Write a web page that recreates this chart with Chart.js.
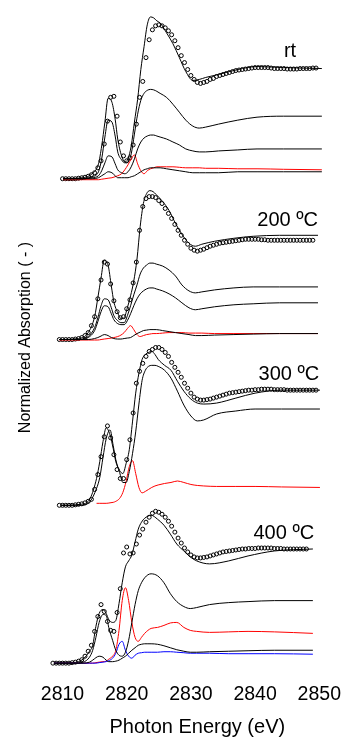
<!DOCTYPE html>
<html>
<head>
<meta charset="utf-8">
<script src="https://cdn.jsdelivr.net/npm/chart.js@4.4.1/dist/chart.umd.min.js"></script>
<style>
  html, body { margin: 0; padding: 0; background: #fff; }
  canvas { display: block; }
</style>
</head>
<body>
<canvas id="graph" width="344" height="737"></canvas>
<script>
// S K-edge XANES, four temperatures, stacked. Energies in eV, absorption normalised.
const tickValues = [2810, 2820, 2830, 2840, 2850];

// energies of the solid curves (each panel is a bit shifted in the figure)
const energyRt = [2810.1, 2813.1, 2814.6, 2815.6, 2816.1, 2816.6, 2817.1, 2817.7, 2818.2, 2818.6,
  2819.2, 2819.7, 2820.2, 2820.7, 2821.2, 2821.7, 2822.2, 2822.7, 2823.2, 2823.7,
  2824.2, 2824.7, 2825.2, 2826.2, 2827.2, 2828.2, 2829.2, 2830.3, 2831.3, 2832.3,
  2834.3, 2837.3, 2840.3, 2844.4, 2850.4];
const energy200 = [2809.5, 2812.5, 2814.0, 2815.0, 2815.5, 2816.0, 2816.5, 2817.1, 2817.6, 2818.0,
  2818.6, 2819.1, 2819.6, 2820.1, 2820.6, 2821.1, 2821.6, 2822.1, 2822.6, 2823.1,
  2823.6, 2824.1, 2824.6, 2825.6, 2826.6, 2827.6, 2828.6, 2829.7, 2830.7, 2831.7,
  2833.7, 2836.7, 2839.7, 2843.8, 2849.8];
const energy300 = [2809.8, 2812.8, 2814.3, 2815.3, 2815.8, 2816.3, 2816.8, 2817.4, 2817.9, 2818.3,
  2818.9, 2819.4, 2819.9, 2820.4, 2820.9, 2821.4, 2821.9, 2822.4, 2822.9, 2823.4,
  2823.9, 2824.4, 2824.9, 2825.9, 2826.9, 2827.9, 2828.9, 2830.0, 2831.0, 2832.0,
  2834.0, 2837.0, 2840.0, 2844.1, 2850.1];
const energy400 = [2808.7, 2811.7, 2813.2, 2814.2, 2814.7, 2815.2, 2815.7, 2816.3, 2816.8, 2817.2,
  2817.8, 2818.3, 2818.8, 2819.3, 2819.8, 2820.3, 2820.8, 2821.3, 2821.8, 2822.3,
  2822.8, 2823.3, 2823.8, 2824.8, 2825.8, 2826.8, 2827.8, 2828.9, 2829.9, 2830.9,
  2832.9, 2835.9, 2838.9, 2843.0, 2849.0];

// energies of the open circles
const circleEnergy = [2808.5, 2809, 2809.5, 2810, 2810.5, 2811, 2811.5, 2812, 2812.5, 2813,
  2813.5, 2814, 2814.5, 2815, 2815.5, 2816, 2816.5, 2817, 2817.5, 2818,
  2818.5, 2819, 2819.5, 2820, 2820.5, 2821, 2821.5, 2822, 2822.5, 2823,
  2823.5, 2824, 2824.5, 2825, 2825.5, 2826, 2826.5, 2827, 2827.5, 2828,
  2828.5, 2829, 2829.5, 2830, 2830.5, 2831, 2831.5, 2832, 2832.5, 2833,
  2833.5, 2834, 2834.5, 2835, 2835.5, 2836, 2836.5, 2837, 2837.5, 2838,
  2838.5, 2839, 2839.5, 2840, 2840.5, 2841, 2841.5, 2842, 2842.5, 2843,
  2843.5, 2844, 2844.5, 2845, 2845.5, 2846, 2846.5, 2847, 2847.5, 2848,
  2848.5, 2849, 2849.5, 2850, 2850.5];

// vertical offsets of the stacked panels
const offsetRt = 4.88;
const offset200 = 3.26;
const offset300 = 1.59;
const offset400 = 0;

// ---- rt
const rtCircles = [null, null, null, 0, 0, 0, 0, 0, 0.005, 0.01,
  0.015, 0.025, 0.04, 0.06, 0.11, 0.18, 0.35, 0.58, 0.82, 0.83,
  0.63, 0.37, 0.23, 0.18, 0.21, 0.34, 0.55, 0.82, 0.98, 1.22,
  1.40, 1.50, 1.54, 1.55, 1.54, 1.52, 1.49, 1.45, 1.39, 1.32,
  1.24, 1.17, 1.10, 1.04, 1.00, 0.97, 0.96, 0.97, 0.98, 1.00,
  1.01, 1.03, 1.04, 1.05, 1.06, 1.07, 1.08, 1.09, 1.095, 1.10,
  1.105, 1.11, 1.115, 1.12, 1.12, 1.12, 1.12, 1.12, 1.115, 1.11,
  1.11, 1.11, 1.11, 1.105, 1.105, 1.105, 1.105, 1.11, 1.11, 1.11,
  1.11, 1.115, 1.115, null, null];
const rtMeasured = [0, 0.01, 0.05, 0.15, 0.33, 0.57, 0.81, 0.77, 0.60, 0.40,
  0.23, 0.17, 0.20, 0.33, 0.57, 0.80, 1.10, 1.33, 1.55, 1.63,
  1.62, 1.59, 1.57, 1.47, 1.36, 1.22, 1.08, 0.99, 1.00, 1.02,
  1.05, 1.10, 1.13, 1.12, 1.11];
const rtCompA = [0, 0, 0.02, 0.07, 0.20, 0.42, 0.59, 0.57, 0.43, 0.27,
  0.19, 0.16, 0.17, 0.25, 0.45, 0.65, 0.79, 0.86, 0.89, 0.90,
  0.895, 0.88, 0.86, 0.82, 0.75, 0.67, 0.59, 0.53, 0.51, 0.52,
  0.55, 0.59, 0.62, 0.63, 0.63];
const rtCompB = [0, 0, 0.01, 0.03, 0.08, 0.16, 0.23, 0.22, 0.15, 0.09,
  0.06, 0.05, 0.07, 0.12, 0.20, 0.30, 0.37, 0.41, 0.43, 0.44,
  0.44, 0.43, 0.42, 0.40, 0.37, 0.34, 0.30, 0.28, 0.27, 0.27,
  0.28, 0.29, 0.30, 0.30, 0.30];
const rtCompC = [0, 0, 0, 0.01, 0.03, 0.05, 0.07, 0.06, 0.03, 0.01,
  0.01, 0.01, 0.01, 0.02, 0.03, 0.05, 0.07, 0.09, 0.10, 0.11,
  0.11, 0.11, 0.11, 0.10, 0.09, 0.08, 0.07, 0.06, 0.06, 0.06,
  0.06, 0.07, 0.07, 0.07, 0.07];
const rtRed = [-0.01, -0.01, -0.01, -0.01, -0.005, 0, 0.005, 0.01, 0.02, 0.03,
  0.05, 0.09, 0.14, 0.20, 0.24, 0.15, 0.08, 0.05, 0.08, 0.10,
  0.11, 0.12, 0.12, 0.12, 0.12, 0.115, 0.11, 0.11, 0.11, 0.105,
  0.105, 0.10, 0.10, 0.095, 0.09];

// ---- 200 C
const c200Circles = [null, null, 0, 0, 0, 0, 0, 0.005, 0.01, 0.02,
  0.04, 0.07, 0.14, 0.23, 0.41, 0.60, 0.78, 0.76, 0.56, 0.39,
  0.28, 0.22, 0.23, 0.31, 0.40, 0.57, 0.78, 1.10, 1.34, 1.42,
  1.44, 1.44, 1.43, 1.40, 1.37, 1.32, 1.27, 1.22, 1.16, 1.10,
  1.05, 1.00, 0.96, 0.92, 0.90, 0.89, 0.90, 0.91, 0.925, 0.94,
  0.95, 0.96, 0.97, 0.975, 0.98, 0.985, 0.99, 0.995, 1.00, 1.005,
  1.01, 1.01, 1.01, 1.01, 1.01, 1.005, 1.005, 1.00, 1.00, 1.00,
  1.00, 1.00, 1.00, 1.00, 1.00, 1.00, 1.00, 1.00, 1.00, 1.00,
  1.00, 1.00, null, null, null];
const c200Measured = [0, 0.01, 0.07, 0.23, 0.42, 0.62, 0.80, 0.75, 0.54, 0.38,
  0.27, 0.21, 0.22, 0.32, 0.44, 0.59, 0.81, 1.14, 1.37, 1.47,
  1.50, 1.49, 1.46, 1.39, 1.30, 1.17, 1.06, 0.97, 0.94, 0.96,
  0.99, 1.02, 1.04, 1.05, 1.05];
const c200CompA = [0, 0, 0.03, 0.12, 0.22, 0.34, 0.41, 0.40, 0.32, 0.24,
  0.19, 0.17, 0.17, 0.24, 0.34, 0.45, 0.55, 0.66, 0.72, 0.75,
  0.77, 0.77, 0.76, 0.74, 0.70, 0.64, 0.55, 0.49, 0.47, 0.48,
  0.50, 0.52, 0.53, 0.53, 0.53];
const c200CompB = [0, 0, 0.02, 0.09, 0.18, 0.28, 0.34, 0.33, 0.26, 0.20,
  0.16, 0.15, 0.15, 0.19, 0.26, 0.34, 0.41, 0.46, 0.49, 0.51,
  0.52, 0.52, 0.51, 0.49, 0.46, 0.42, 0.37, 0.32, 0.30, 0.31,
  0.33, 0.35, 0.36, 0.37, 0.37];
const c200CompC = [0, 0, 0, 0.01, 0.02, 0.035, 0.05, 0.04, 0.02, 0.01,
  0.005, 0.005, 0.01, 0.015, 0.02, 0.04, 0.06, 0.075, 0.09, 0.095,
  0.10, 0.10, 0.10, 0.09, 0.08, 0.07, 0.06, 0.05, 0.04, 0.04,
  0.045, 0.05, 0.055, 0.06, 0.06];
const c200Red = [-0.005, -0.005, -0.005, -0.005, -0.005, 0, 0.005, 0.01, 0.015, 0.02,
  0.03, 0.045, 0.07, 0.11, 0.14, 0.10, 0.05, 0.03, 0.04, 0.05,
  0.055, 0.06, 0.06, 0.065, 0.07, 0.07, 0.07, 0.065, 0.065, 0.065,
  0.06, 0.06, 0.06, 0.06, 0.06];

// ---- 300 C
const c300Circles = [null, null, 0, 0, 0, 0, 0, 0.005, 0.01, 0.015,
  0.025, 0.04, 0.06, 0.16, 0.31, 0.49, 0.69, 0.80, 0.68, 0.51,
  0.36, 0.27, 0.27, 0.46, 0.66, 0.93, 1.23, 1.35, 1.43, 1.50,
  1.55, 1.57, 1.59, 1.59, 1.57, 1.54, 1.50, 1.44, 1.39, 1.34,
  1.29, 1.23, 1.18, 1.13, 1.09, 1.07, 1.06, 1.06, 1.065, 1.07,
  1.08, 1.09, 1.10, 1.11, 1.12, 1.13, 1.135, 1.14, 1.145, 1.15,
  1.155, 1.16, 1.16, 1.165, 1.165, 1.17, 1.17, 1.17, 1.17, 1.165,
  1.165, 1.165, 1.165, 1.16, 1.16, 1.16, 1.16, 1.16, 1.16, 1.16,
  1.16, 1.16, 1.16, null, null];
const c300Measured = [0, 0.01, 0.07, 0.27, 0.44, 0.64, 0.78, 0.71, 0.57, 0.44,
  0.35, 0.32, 0.42, 0.56, 0.84, 1.13, 1.33, 1.47, 1.52, 1.54,
  1.55, 1.52, 1.47, 1.41, 1.36, 1.25, 1.15, 1.07, 1.03, 1.02,
  1.03, 1.08, 1.13, 1.16, 1.16];
const c300CompA = [0, 0, 0.04, 0.17, 0.28, 0.48, 0.67, 0.76, 0.60, 0.46,
  0.33, 0.23, 0.23, 0.34, 0.52, 0.74, 1.02, 1.26, 1.36, 1.40,
  1.41, 1.41, 1.40, 1.36, 1.28, 1.15, 1.01, 0.90, 0.85, 0.86,
  0.92, 0.95, 0.97, 0.97, 0.97];
const c300Red = [null, null, null, 0.02, 0.02, 0.02, 0.02, 0.025, 0.03, 0.04,
  0.07, 0.13, 0.24, 0.39, 0.45, 0.32, 0.18, 0.125, 0.14, 0.16,
  0.18, 0.195, 0.205, 0.22, 0.23, 0.245, 0.23, 0.21, 0.20, 0.195,
  0.19, 0.19, 0.19, 0.185, 0.18];

// ---- 400 C
const c400Circles = [0, 0, 0, 0, 0, 0, 0.005, 0.01, 0.02, 0.035,
  0.07, 0.12, 0.18, 0.32, 0.47, 0.59, 0.52, 0.42, 0.33, 0.32,
  0.51, 0.75, 1.11, 1.17, 1.10, 1.11, 1.20, 1.29, 1.35, 1.42,
  1.47, 1.51, 1.53, 1.52, 1.50, 1.47, 1.43, 1.38, 1.32, 1.26,
  1.21, 1.16, 1.12, 1.09, 1.07, 1.06, 1.06, 1.065, 1.07, 1.08,
  1.09, 1.10, 1.11, 1.12, 1.125, 1.13, 1.135, 1.14, 1.145, 1.15,
  1.15, 1.155, 1.155, 1.155, 1.16, 1.16, 1.16, 1.16, 1.16, 1.155,
  1.155, 1.155, 1.15, 1.15, 1.15, 1.15, 1.15, 1.15, 1.15, 1.15,
  null, null, null, null, null];
const c400Measured = [0, 0.005, 0.04, 0.12, 0.18, 0.37, 0.50, 0.54, 0.50, 0.44,
  0.41, 0.43, 0.60, 0.81, 0.97, 1.03, 1.09, 1.22, 1.35, 1.42,
  1.46, 1.48, 1.49, 1.45, 1.39, 1.30, 1.20, 1.13, 1.07, 1.03,
  1.00, 1.03, 1.08, 1.13, 1.15];
const c400CompA = [0, 0, 0.01, 0.06, 0.13, 0.26, 0.41, 0.49, 0.48, 0.36,
  0.23, 0.13, 0.08, 0.07, 0.11, 0.23, 0.41, 0.59, 0.73, 0.81,
  0.86, 0.89, 0.90, 0.88, 0.81, 0.70, 0.62, 0.57, 0.55, 0.56,
  0.59, 0.61, 0.62, 0.63, 0.63];
const c400CompC = [0, 0, 0, 0.01, 0.03, 0.055, 0.07, 0.06, 0.03, 0.015,
  0.015, 0.02, 0.03, 0.05, 0.07, 0.10, 0.13, 0.155, 0.18, 0.19,
  0.195, 0.195, 0.195, 0.19, 0.175, 0.155, 0.135, 0.12, 0.11, 0.11,
  0.115, 0.12, 0.125, 0.13, 0.13];
const c400Red = [0, 0, 0, 0, 0, 0.005, 0.01, 0.015, 0.02, 0.04,
  0.07, 0.13, 0.33, 0.63, 0.76, 0.63, 0.41, 0.26, 0.22, 0.26,
  0.30, 0.33, 0.35, 0.36, 0.38, 0.405, 0.41, 0.36, 0.33, 0.32,
  0.31, 0.315, 0.32, 0.315, 0.30];
const c400Blue = [0, 0, 0, 0, 0, 0, 0.005, 0.01, 0.015, 0.025,
  0.05, 0.10, 0.19, 0.22, 0.13, 0.07, 0.05, 0.08, 0.10, 0.105,
  0.11, 0.11, 0.11, 0.11, 0.115, 0.115, 0.11, 0.105, 0.10, 0.10,
  0.10, 0.095, 0.095, 0.095, 0.09];

function toPoints(xs, ys, offset) {
  let pts = [];
  xs.forEach((x, i) => {
    if (ys[i] !== null) pts.push({ x: x, y: ys[i] + offset });
  });
  return pts;
}

function curve(xs, ys, offset, color) {
  return {
    data: toPoints(xs, ys, offset),
    showLine: true,
    borderColor: color,
    borderWidth: 1,
    pointRadius: 0,
    cubicInterpolationMode: "monotone",
    clip: false,
  };
}

function circles(ys, offset) {
  return {
    data: toPoints(circleEnergy, ys, offset),
    showLine: false,
    pointStyle: "circle",
    pointRadius: 2,
    pointBorderWidth: 1,
    pointBorderColor: "#000",
    pointBackgroundColor: "rgba(0,0,0,0)",
    clip: false,
  };
}

const black = "#000000";
const red = "#ff0000";
const blue = "#0000ff";

const datasets = [
  // rt
  curve(energyRt, rtCompC, offsetRt, black),
  curve(energyRt, rtCompB, offsetRt, black),
  curve(energyRt, rtCompA, offsetRt, black),
  curve(energyRt, rtRed, offsetRt, red),
  curve(energyRt, rtMeasured, offsetRt, black),
  circles(rtCircles, offsetRt),
  // 200
  curve(energy200, c200CompC, offset200, black),
  curve(energy200, c200CompB, offset200, black),
  curve(energy200, c200CompA, offset200, black),
  curve(energy200, c200Red, offset200, red),
  curve(energy200, c200Measured, offset200, black),
  circles(c200Circles, offset200),
  // 300
  curve(energy300, c300CompA, offset300, black),
  curve(energy300, c300Red, offset300, red),
  curve(energy300, c300Measured, offset300, black),
  circles(c300Circles, offset300),
  // 400
  curve(energy400, c400CompC, offset400, black),
  curve(energy400, c400CompA, offset400, black),
  curve(energy400, c400Blue, offset400, blue),
  curve(energy400, c400Red, offset400, red),
  curve(energy400, c400Measured, offset400, black),
  circles(c400Circles, offset400),
];

const FONT = "'Liberation Sans', Arial, sans-serif";
Chart.defaults.font.family = FONT;
Chart.defaults.color = "#000";

// panel labels and axis titles
const textPlugin = {
  id: "texts",
  afterDraw(chart) {
    const ctx = chart.ctx;
    const xs = chart.scales.x;
    const ys = chart.scales.y;
    ctx.save();
    ctx.fillStyle = "#000";
    ctx.font = "20px " + FONT;
    ctx.textAlign = "right";
    ctx.textBaseline = "alphabetic";
    ctx.fillText("rt", xs.getPixelForValue(2846.4), ys.getPixelForValue(6.11));
    ctx.fillText("200 \u00baC", xs.getPixelForValue(2849.8), ys.getPixelForValue(4.40));
    ctx.fillText("300 \u00baC", xs.getPixelForValue(2850.0), ys.getPixelForValue(2.85));
    ctx.fillText("400 \u00baC", xs.getPixelForValue(2849.2), ys.getPixelForValue(1.25));

    ctx.textAlign = "center";
    ctx.textBaseline = "middle";
    ctx.fillText("Photon Energy (eV)", xs.getPixelForValue(2831), chart.height - 10);

    ctx.font = "16px " + FONT;
    ctx.translate(26, ys.getPixelForValue(3.28));
    ctx.rotate(-Math.PI / 2);
    ctx.fillText("Normalized Absorption ( - )", 0, 0);
    ctx.restore();
  },
};

new Chart(document.getElementById("graph"), {
  type: "scatter",
  data: { datasets: datasets },
  options: {
    responsive: false,
    animation: false,
    devicePixelRatio: 1,
    layout: { padding: { left: 52.9, right: 18.3, top: 0, bottom: 30.3 } },
    plugins: {
      legend: { display: false },
      tooltip: { enabled: false },
    },
    scales: {
      x: {
        type: "linear",
        min: 2808.5,
        max: 2851,
        grid: { display: false, drawTicks: false },
        border: { display: false },
        ticks: {
          font: { size: 19.5 },
          color: "#000",
          padding: 0,
          maxRotation: 0,
          autoSkip: false,
          callback: (v) => String(v),
        },
        afterBuildTicks: (scale) => {
          scale.ticks = tickValues.map((v) => ({ value: v }));
        },
      },
      y: {
        type: "linear",
        display: false,
        min: -0.203,
        max: 6.63,
      },
    },
  },
  plugins: [textPlugin],
});
</script>
</body>
</html>
